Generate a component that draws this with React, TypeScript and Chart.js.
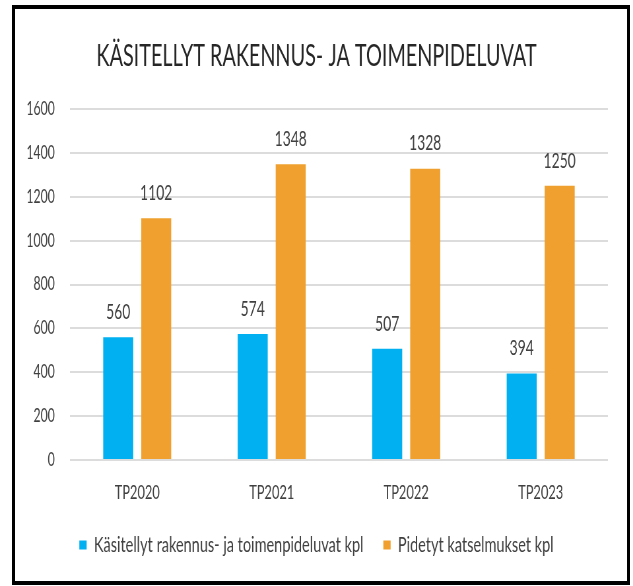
import React, { useEffect, useRef } from "react";
import { Chart, registerables } from "chart.js";

Chart.register(...registerables);

const categories = ["TP2020", "TP2021", "TP2022", "TP2023"];
const permits = [560, 574, 507, 394];
const inspections = [1102, 1348, 1328, 1250];
const seriesNames = ["Käsitellyt rakennus- ja toimenpideluvat kpl", "Pidetyt katselmukset kpl"];
const titleText = "KÄSITELLYT RAKENNUS- JA TOIMENPIDELUVAT";

// The reference uses a narrow (Calibri-like) face; the canvas is drawn wider and squeezed horizontally.
const SQUEEZE = 0.66;
const CSS_W = 633;
const CSS_H = 586;
const INT_W = Math.round(CSS_W / SQUEEZE);

const FONT = "Lato, 'Open Sans', sans-serif";
const TEXT = "#404040";

const valueLabels = {
  id: "valueLabels",
  afterDatasetsDraw(chart: any) {
    const ctx = chart.ctx;
    ctx.save();
    ctx.font = `21px ${FONT}`;
    ctx.fillStyle = TEXT;
    ctx.textAlign = "center";
    ctx.textBaseline = "middle";
    chart.data.datasets.forEach((ds: any, i: number) => {
      const meta = chart.getDatasetMeta(i);
      meta.data.forEach((bar: any, j: number) => {
        ctx.fillText(String(ds.data[j]), bar.x, bar.y - 25);
      });
    });
    ctx.restore();
  },
};

export default function App() {
  const ref = useRef<HTMLCanvasElement>(null);
  useEffect(() => {
    const chart = new Chart(ref.current!, {
      type: "bar",
      data: {
        labels: categories,
        datasets: [
          { label: seriesNames[0], data: permits, backgroundColor: "#00B0F0", categoryPercentage: 0.565, barPercentage: 0.79 },
          { label: seriesNames[1], data: inspections, backgroundColor: "#EFA02E", categoryPercentage: 0.565, barPercentage: 0.79 },
        ],
      },
      options: {
        responsive: false,
        animation: false,
        devicePixelRatio: 1,
        layout: { padding: { left: 38, right: 38, top: 0, bottom: 20 } },
        plugins: {
          title: {
            display: true,
            text: titleText,
            color: "#262626",
            font: { family: FONT, size: 30, weight: "normal" },
            padding: { top: 38, bottom: 35 },
          },
          legend: {
            position: "bottom",
            labels: {
              color: TEXT,
              font: { family: FONT, size: 22 },
              boxWidth: 11,
              boxHeight: 9,
              padding: 30,
            },
          },
          tooltip: { enabled: false },
        },
        scales: {
          x: {
            grid: { display: false, drawTicks: false },
            border: { display: false },
            ticks: { color: TEXT, font: { family: FONT, size: 19.5 }, padding: 21 },
            afterFit: (s: any) => {
              s.height = 44;
            },
          },
          y: {
            min: 0,
            max: 1600,
            ticks: {
              stepSize: 200,
              color: TEXT,
              font: { family: FONT, size: 18.5 },
              padding: 23,
              callback: (v: any) => String(v),
            },
            grid: { color: "#DCDCDC", lineWidth: 2, drawTicks: false },
            border: { display: false },
            afterFit: (s: any) => {
              s.width = 68;
            },
          },
        },
      },
      plugins: [valueLabels],
    });
    return () => chart.destroy();
  }, []);
  return (
    <div style={{ position: "fixed", left: 0, top: 0, width: CSS_W, height: CSS_H, background: "#fff" }}>
      <canvas
        ref={ref}
        width={INT_W}
        height={CSS_H}
        style={{ position: "absolute", left: 0, top: 0, width: CSS_W, height: CSS_H }}
      />
      <div
        style={{
          position: "absolute",
          left: 12,
          top: 5,
          width: 618,
          height: 580,
          borderStyle: "solid",
          borderColor: "#000",
          borderWidth: "4px 3px 4px 3px",
          boxSizing: "border-box",
          pointerEvents: "none",
        }}
      />
    </div>
  );
}
